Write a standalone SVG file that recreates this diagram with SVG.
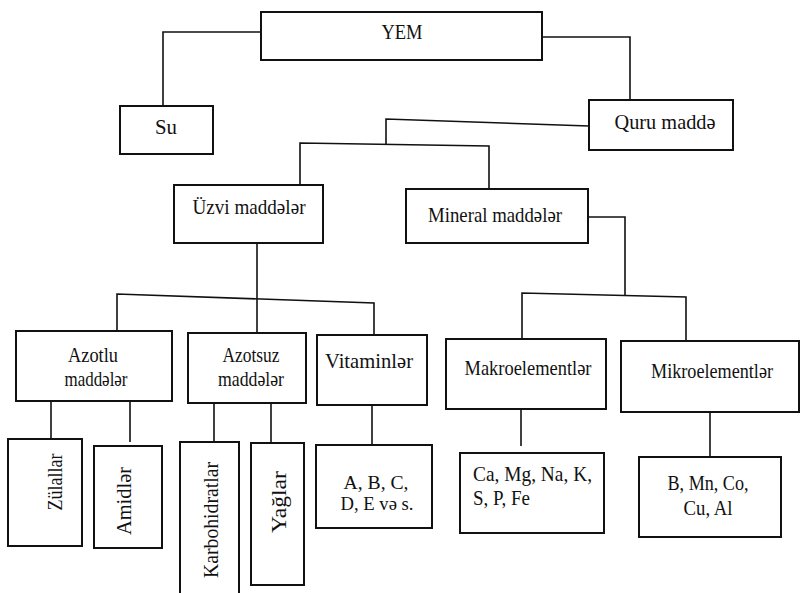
<svg xmlns="http://www.w3.org/2000/svg" width="800" height="593" viewBox="0 0 800 593">
<style>
.box{fill:#fff;stroke:#111;stroke-width:2}
.ln{fill:none;stroke:#111;stroke-width:1.6}
text{font-family:'Liberation Serif','DejaVu Serif',serif;font-size:21px;fill:#111}
.c{text-anchor:middle}
.s{font-size:19px}
</style>
<rect width="800" height="593" fill="#fff"/>
<g id="connectors">
<path class="ln" d="M261,32 H163 V106"/>
<path class="ln" d="M542,37 H630 V100"/>
<path class="ln" d="M589,126 L386,119 V144"/>
<path class="ln" d="M300,185 V143 L489,146 V189"/>
<path class="ln" d="M588,217 H625 V295"/>
<path class="ln" d="M522,339 V293 L686,297 V341"/>
<path class="ln" d="M257,243 V333"/>
<path class="ln" d="M117,331 V294 L374,303 V335"/>
<path class="ln" d="M51,401 V439 M130,401 V442"/>
<path class="ln" d="M214,403 V442 M271,403 V443"/>
<path class="ln" d="M372,405 V445"/>
<path class="ln" d="M521,409 V446"/>
<path class="ln" d="M710,412 V457"/>
</g>
<g id="yem"><rect class="box" x="261" y="12" width="281" height="48"/><text class="c" x="402" y="39" textLength="41" lengthAdjust="spacingAndGlyphs">YEM</text></g>
<g id="su"><rect class="box" x="120" y="106" width="93" height="48"/><text class="c" x="166" y="134" textLength="22" lengthAdjust="spacingAndGlyphs">Su</text></g>
<g id="quru"><rect class="box" x="589" y="100" width="144" height="50"/><text class="c" x="665" y="129" textLength="101" lengthAdjust="spacingAndGlyphs">Quru maddə</text></g>
<g id="uzvi"><rect class="box" x="174" y="185" width="149" height="58"/><text class="c" x="249" y="214" textLength="113" lengthAdjust="spacingAndGlyphs">Üzvi maddələr</text></g>
<g id="mineral"><rect class="box" x="406" y="189" width="182" height="54"/><text class="c" x="495" y="222" textLength="134" lengthAdjust="spacingAndGlyphs">Mineral maddələr</text></g>
<g id="azotlu"><rect class="box" x="16" y="331" width="156" height="70"/><text class="c" x="93" y="362" textLength="50" lengthAdjust="spacingAndGlyphs">Azotlu</text><text class="c" x="96" y="386" textLength="63" lengthAdjust="spacingAndGlyphs">maddələr</text></g>
<g id="azotsuz"><rect class="box" x="188" y="333" width="118" height="70"/><text class="c" x="251" y="362" textLength="57" lengthAdjust="spacingAndGlyphs">Azotsuz</text><text class="c" x="251" y="386" textLength="66" lengthAdjust="spacingAndGlyphs">maddələr</text></g>
<g id="vitaminler"><rect class="box" x="317" y="335" width="110" height="70"/><text class="c" x="369" y="368" textLength="88" lengthAdjust="spacingAndGlyphs">Vitaminlər</text></g>
<g id="makro"><rect class="box" x="446" y="339" width="160" height="70"/><text class="c" x="528" y="375" textLength="127" lengthAdjust="spacingAndGlyphs">Makroelementlər</text></g>
<g id="mikro"><rect class="box" x="621" y="341" width="178" height="71"/><text class="c" x="712" y="378" textLength="122" lengthAdjust="spacingAndGlyphs">Mikroelementlər</text></g>
<g id="zulallar"><rect class="box" x="8" y="439" width="74" height="107"/><text class="c" transform="translate(62,482) rotate(-90)" textLength="57" lengthAdjust="spacingAndGlyphs">Zülallar</text></g>
<g id="amidler"><rect class="box" x="94" y="446" width="68" height="102"/><text class="c" transform="translate(131,501) rotate(-90)" textLength="68" lengthAdjust="spacingAndGlyphs">Amidlər</text></g>
<g id="karbohidratlar"><rect class="box" x="180" y="442" width="59" height="160"/><text class="c" transform="translate(218,520) rotate(-90)" textLength="116" lengthAdjust="spacingAndGlyphs">Karbohidratlar</text></g>
<g id="yaglar"><rect class="box" x="251" y="443" width="53" height="142"/><text class="c" transform="translate(286,502) rotate(-90)" textLength="62" lengthAdjust="spacingAndGlyphs">Yağlar</text></g>
<g id="vit-list"><rect class="box" x="316" y="445" width="116" height="83"/><text class="c s" x="376" y="489" textLength="65" lengthAdjust="spacingAndGlyphs">A, B, C,</text><text class="c s" x="377" y="510" textLength="73" lengthAdjust="spacingAndGlyphs">D, E və s.</text></g>
<g id="makro-list"><rect class="box" x="460" y="453" width="144" height="80"/><text x="473" y="481" textLength="119" lengthAdjust="spacingAndGlyphs">Ca,  Mg, Na, K,</text><text x="473" y="505" textLength="57" lengthAdjust="spacingAndGlyphs">S, P, Fe</text></g>
<g id="mikro-list"><rect class="box" x="639" y="457" width="142" height="80"/><text class="c" x="708" y="490" textLength="81" lengthAdjust="spacingAndGlyphs">B, Mn, Co,</text><text class="c" x="708" y="515" textLength="49" lengthAdjust="spacingAndGlyphs">Cu, Al</text></g>
</svg>
